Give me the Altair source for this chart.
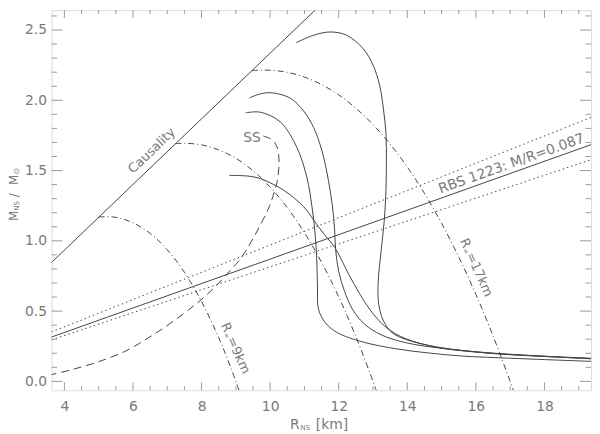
import altair as alt
import pandas as pd

# ---------------- data ----------------
# Neutron-star mass-radius curves (solid)
EOS_A_R = [10.76, 11.27, 11.75, 12.23, 12.71, 13.00, 13.19, 13.30, 13.38, 13.39, 13.38, 13.33, 13.24, 13.15, 13.16, 13.27, 13.48, 13.67, 14.05, 14.83, 15.60, 16.56, 17.90, 19.40]
EOS_A_M = [2.410, 2.463, 2.486, 2.463, 2.368, 2.251, 2.110, 1.946, 1.758, 1.570, 1.382, 1.148, 0.937, 0.704, 0.563, 0.450, 0.365, 0.328, 0.291, 0.246, 0.220, 0.197, 0.178, 0.162]

EOS_B_R = [9.39, 9.72, 10.06, 10.58, 10.98, 11.27, 11.51, 11.70, 11.82, 11.88, 11.91, 12.00, 12.17, 12.40, 12.75, 13.24, 13.96, 15.11, 16.56, 17.90, 19.40]
EOS_B_M = [2.016, 2.046, 2.053, 2.016, 1.923, 1.805, 1.641, 1.430, 1.242, 1.077, 0.937, 0.782, 0.641, 0.514, 0.408, 0.331, 0.275, 0.232, 0.200, 0.180, 0.160]

EOS_C_R = [9.29, 9.72, 10.30, 10.78, 11.07, 11.22, 11.31, 11.36, 11.38, 11.41, 11.60, 11.94, 12.71, 13.67, 14.62, 15.60, 16.56, 18.00, 19.40]
EOS_C_M = [1.911, 1.915, 1.845, 1.664, 1.453, 1.242, 1.054, 0.866, 0.678, 0.514, 0.420, 0.349, 0.280, 0.232, 0.202, 0.180, 0.169, 0.155, 0.142]

EOS_D_R = [8.81, 9.34, 9.72, 10.40, 10.98, 11.27, 11.55, 11.89, 12.32, 12.90, 13.38, 13.96, 14.83, 15.60, 16.75, 17.90, 19.40]
EOS_D_M = [1.465, 1.461, 1.442, 1.359, 1.242, 1.148, 1.054, 0.951, 0.749, 0.514, 0.385, 0.303, 0.244, 0.218, 0.195, 0.180, 0.164]

# Strange star (dashed)
SS_R = [9.80, 10.06, 10.21, 10.26, 10.21, 10.16, 9.98, 9.73, 9.43, 9.14, 8.86, 8.38, 7.90, 7.13, 6.45, 5.78, 5.01, 4.24, 3.60]
SS_M = [1.746, 1.718, 1.662, 1.549, 1.430, 1.380, 1.246, 1.120, 0.986, 0.873, 0.796, 0.669, 0.563, 0.420, 0.310, 0.215, 0.141, 0.085, 0.047]

# Constant R_inf curves (dash-dot)
RINF9_R = [5.00, 5.50, 6.00, 6.50, 7.00, 7.50, 8.00, 8.50, 8.75, 9.00, 9.10]
RINF9_M = [1.170, 1.167, 1.128, 1.053, 0.936, 0.776, 0.568, 0.311, 0.162, 0.000, -0.069]
RINF13_R = [7.24, 7.50, 8.00, 8.50, 9.00, 9.50, 10.00, 10.50, 11.00, 11.50, 12.00, 12.50, 13.00, 13.10]
RINF13_M = [1.691, 1.694, 1.683, 1.647, 1.587, 1.499, 1.382, 1.236, 1.058, 0.847, 0.601, 0.319, 0.000, -0.069]
RINF17_R = [9.47, 10.00, 10.50, 11.00, 11.50, 12.00, 12.50, 13.00, 13.50, 14.00, 14.50, 15.00, 15.50, 16.00, 16.50, 17.00, 17.10]
RINF17_M = [2.211, 2.214, 2.199, 2.165, 2.112, 2.038, 1.944, 1.827, 1.688, 1.525, 1.338, 1.125, 0.885, 0.619, 0.324, 0.000, -0.068]

# Straight lines
CAUS_R = [3.50, 11.60]
CAUS_M = [0.817, 2.709]
RBS_R = [3.50, 19.50]
RBS_M = [0.3045, 1.6965]
RBS_HI_M = [0.3395, 1.8915]
RBS_LO_M = [0.2853, 1.5890]

# Axis ticks
X_MAJOR = [4, 6, 8, 10, 12, 14, 16, 18]
X_MINOR = [4.5, 5, 5.5, 6.5, 7, 7.5, 8.5, 9, 9.5, 10.5, 11, 11.5, 12.5, 13, 13.5,
           14.5, 15, 15.5, 16.5, 17, 17.5, 18.5, 19]
Y_MAJOR = [0.0, 0.5, 1.0, 1.5, 2.0, 2.5]
Y_MINOR = [0.1, 0.2, 0.3, 0.4, 0.6, 0.7, 0.8, 0.9, 1.1, 1.2, 1.3, 1.4, 1.6, 1.7, 1.8,
           1.9, 2.1, 2.2, 2.3, 2.4, 2.6]

# ---------------- styling ----------------
FONT = "DejaVu Sans"
LINE = "#444444"
AXC = "#9a9a9a"
TXT = "#7a7a7a"
W, H = 545, 384

xsc = alt.Scale(domain=[3.625, 19.358], nice=False, zero=False)
ysc = alt.Scale(domain=[-0.0634, 2.641], nice=False, zero=False)

xax = alt.Axis(values=X_MAJOR, format="d", ticks=False, domain=False, grid=False,
               labelFont=FONT, labelFontSize=14, labelColor=TXT, labelPadding=9,
               title=None)
yax = alt.Axis(values=Y_MAJOR, format=".1f", ticks=False, domain=False, grid=False,
               labelFont=FONT, labelFontSize=14, labelColor=TXT, labelPadding=5,
               title=None)


def long_df(curves):
    rows = []
    for name, R, M in curves:
        for i, (r, m) in enumerate(zip(R, M)):
            rows.append({"curve": name, "R": r, "M": m, "i": i})
    return pd.DataFrame(rows)


eos = long_df([("A", EOS_A_R, EOS_A_M), ("B", EOS_B_R, EOS_B_M),
               ("C", EOS_C_R, EOS_C_M), ("D", EOS_D_R, EOS_D_M)])
ss = long_df([("SS", SS_R, SS_M)])
rinf = long_df([("9", RINF9_R, RINF9_M), ("13", RINF13_R, RINF13_M),
                ("17", RINF17_R, RINF17_M)])
straight = long_df([("caus", CAUS_R, CAUS_M), ("rbs", RBS_R, RBS_M)])
bounds = long_df([("hi", RBS_R, RBS_HI_M), ("lo", RBS_R, RBS_LO_M)])

XE = alt.X("R:Q", scale=xsc, axis=xax)
YE = alt.Y("M:Q", scale=ysc, axis=yax)


def curve_layer(df, dash=None, interp="catmull-rom"):
    kw = dict(interpolate=interp, clip=True, color=LINE, strokeWidth=1)
    if dash:
        kw["strokeDash"] = dash
    return alt.Chart(df).mark_line(**kw).encode(x=XE, y=YE, detail="curve:N", order="i:Q")


eos_layer = curve_layer(eos)
ss_layer = curve_layer(ss, [8, 5])
rinf_layer = curve_layer(rinf, [6, 3, 1, 3])
straight_layer = curve_layer(straight, interp="linear")
bounds_layer = curve_layer(bounds, [1.5, 3], interp="linear")

# inward ticks on all four sides
xmaj = pd.DataFrame({"R": X_MAJOR})
xmin = pd.DataFrame({"R": X_MINOR})
ymaj = pd.DataFrame({"M": Y_MAJOR})
ymin = pd.DataFrame({"M": Y_MINOR})


def xticks(df, ln):
    base = alt.Chart(df).mark_rule(color=AXC, strokeWidth=1)
    return [base.encode(x=XE, y=alt.value(H), y2=alt.value(H - ln)),
            base.encode(x=XE, y=alt.value(0), y2=alt.value(ln))]


def yticks(df, ln):
    base = alt.Chart(df).mark_rule(color=AXC, strokeWidth=1)
    return [base.encode(y=YE, x=alt.value(0), x2=alt.value(ln)),
            base.encode(y=YE, x=alt.value(W - ln), x2=alt.value(W))]


tick_layers = xticks(xmaj, 8) + xticks(xmin, 4) + yticks(ymaj, 11) + yticks(ymin, 5.5)

# annotations (anchor positions in data units)
one = pd.DataFrame({"k": [0]})


def label(text, R, M, angle=0, align="center", size=13, dx=0, dy=0):
    return alt.Chart(pd.DataFrame({"R": [R], "M": [M]})).mark_text(
        text=text, font=FONT, fontSize=size, color=TXT, angle=angle, align=align,
        baseline="middle", dx=dx, dy=dy).encode(x=XE, y=YE)


ann = [
    label("Causality", 6.549, 1.641, angle=316.3, size=13),
    label("RBS 1223: M/R=0.087", 17.04, 1.547, angle=340.4, size=14),
    label("SS", 9.73, 1.729, align="right", size=14),
    label("R", 8.662, 0.412, angle=66, align="left", size=13),
    label("\u221e", 8.662, 0.412, angle=66, align="left", size=7, dx=9.5, dy=3),
    label("=9km", 8.662, 0.412, angle=66, align="left", size=13, dx=15.5),
    label("R", 15.634, 1.012, angle=65.6, align="left", size=13),
    label("\u221e", 15.634, 1.012, angle=65.6, align="left", size=7, dx=9.5, dy=3),
    label("=17km", 15.634, 1.012, angle=65.6, align="left", size=13, dx=15.5),
]


def ptext(text, px, py, size, angle=0, dx=0, dy=0, baseline="middle"):
    return alt.Chart(one).mark_text(text=text, font=FONT, fontSize=size, color=TXT,
                                    angle=angle, align="left", baseline=baseline,
                                    dx=dx, dy=dy).encode(x=alt.value(px), y=alt.value(py))


YT_X, YT_Y = -38, 213
XT_X, XT_Y = 241, 423
titles = [
    # y title, reading bottom to top
    ptext("M", YT_X, YT_Y, 12, angle=270),
    ptext("NS", YT_X, YT_Y, 7, angle=270, dx=10.5, dy=3),
    ptext("/", YT_X, YT_Y, 12, angle=270, dx=24),
    ptext("M", YT_X, YT_Y, 12, angle=270, dx=36.5),
    ptext("\u2299", YT_X, YT_Y, 8, angle=270, dx=47, dy=3),
    # x title
    ptext("R", XT_X, XT_Y, 14, baseline="alphabetic"),
    ptext("NS", XT_X, XT_Y, 7, dx=10.5, dy=1, baseline="alphabetic"),
    ptext("[km]", XT_X, XT_Y, 14, dx=26, baseline="alphabetic"),
]

chart = alt.layer(
    eos_layer, ss_layer, rinf_layer, straight_layer, bounds_layer,
    *tick_layers, *ann, *titles
).properties(
    width=W, height=H,
    padding={"left": 44, "top": 0, "right": 1, "bottom": 46},
    autosize=alt.AutoSizeParams(type="none"),
).configure_view(stroke=AXC, strokeWidth=1).configure(background="white")

chart.save("out.html", embed_options={"renderer": "svg", "actions": False})
